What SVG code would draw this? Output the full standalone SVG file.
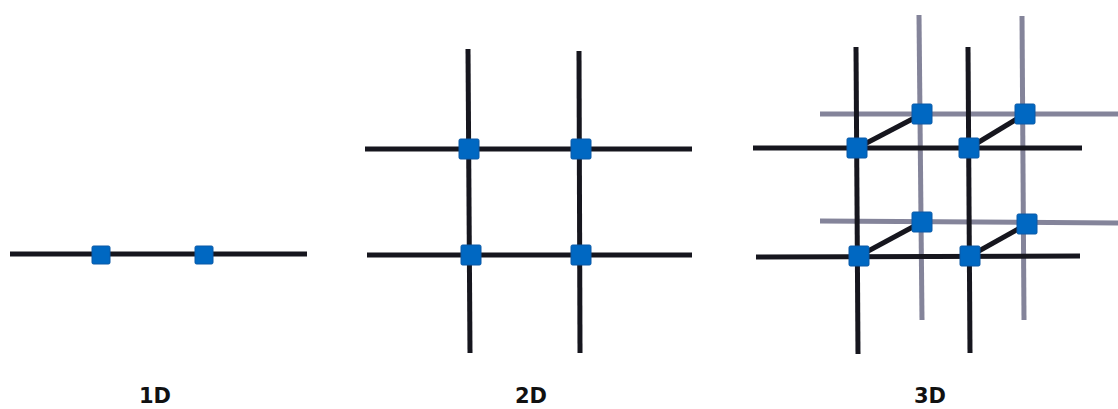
<svg xmlns="http://www.w3.org/2000/svg" width="1118" height="409" viewBox="0 0 1118 409">
<style>
.blk{stroke:#16161e;stroke-width:5;fill:none;stroke-linecap:butt}
.gry{stroke:#84849a;stroke-width:5;fill:none}
.node{fill:#0068c2;stroke:#0a58a6;stroke-width:1}
.lbl{font-family:"DejaVu Sans",sans-serif;font-weight:bold;font-size:21px;fill:#111;text-anchor:middle}
</style>
<rect width="1118" height="409" fill="#fff"/>
<g id="connectors">
<!-- 1D -->
<line class="blk" x1="10" y1="254" x2="307" y2="254"/>
<!-- 2D -->
<line class="blk" x1="468" y1="49" x2="470" y2="353"/>
<line class="blk" x1="579" y1="51" x2="580" y2="353"/>
<line class="blk" x1="365" y1="149" x2="692" y2="149"/>
<line class="blk" x1="367" y1="255" x2="692" y2="255"/>
<!-- 3D back (gray) -->
<line class="gry" x1="919" y1="15" x2="922" y2="320"/>
<line class="gry" x1="1022" y1="16" x2="1024" y2="320"/>
<line class="gry" x1="820" y1="114" x2="1118" y2="114"/>
<line class="gry" x1="820" y1="221" x2="1118" y2="223"/>
<!-- 3D front (black) -->
<line class="blk" x1="856" y1="47" x2="858" y2="354"/>
<line class="blk" x1="968" y1="47" x2="970" y2="353"/>
<line class="blk" x1="753" y1="148" x2="1082" y2="148"/>
<line class="blk" x1="756" y1="257" x2="1080" y2="256"/>
<!-- diagonals -->
<line class="blk" x1="857" y1="148" x2="922" y2="114"/>
<line class="blk" x1="969" y1="148" x2="1025" y2="114"/>
<line class="blk" x1="859" y1="256" x2="922" y2="222"/>
<line class="blk" x1="970" y1="256" x2="1027" y2="224"/>
</g>
<g id="node-1d-a"><rect class="node" x="92" y="246" width="18" height="18" rx="1.5"/></g>
<g id="node-1d-b"><rect class="node" x="195" y="246" width="18" height="18" rx="1.5"/></g>
<g id="node-2d-a"><rect class="node" x="459" y="139" width="20" height="20" rx="1.5"/></g>
<g id="node-2d-b"><rect class="node" x="571" y="139" width="20" height="20" rx="1.5"/></g>
<g id="node-2d-c"><rect class="node" x="461" y="245" width="20" height="20" rx="1.5"/></g>
<g id="node-2d-d"><rect class="node" x="571" y="245" width="20" height="20" rx="1.5"/></g>
<g id="node-3d-a"><rect class="node" x="847" y="138" width="20" height="20" rx="1.5"/></g>
<g id="node-3d-b"><rect class="node" x="959" y="138" width="20" height="20" rx="1.5"/></g>
<g id="node-3d-c"><rect class="node" x="849" y="246" width="20" height="20" rx="1.5"/></g>
<g id="node-3d-d"><rect class="node" x="960" y="246" width="20" height="20" rx="1.5"/></g>
<g id="node-3d-e"><rect class="node" x="912" y="104" width="20" height="20" rx="1.5"/></g>
<g id="node-3d-f"><rect class="node" x="1015" y="104" width="20" height="20" rx="1.5"/></g>
<g id="node-3d-g"><rect class="node" x="912" y="212" width="20" height="20" rx="1.5"/></g>
<g id="node-3d-h"><rect class="node" x="1017" y="214" width="20" height="20" rx="1.5"/></g>
<g id="labels">
<text class="lbl" x="155" y="403">1D</text>
<text class="lbl" x="531" y="403">2D</text>
<text class="lbl" x="930" y="403">3D</text>
</g>
</svg>
